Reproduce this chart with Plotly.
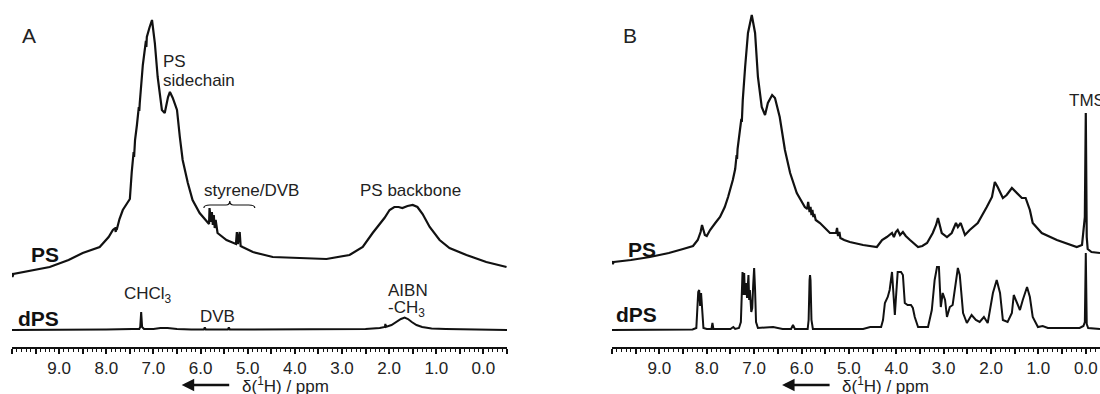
import plotly.graph_objects as go

# ---------------- data (ppm, intensity above trace offset) ----------------
A_PS_ppm = [10.00, 9.99, 9.97, 9.60, 9.20, 8.80, 8.50, 8.14, 7.95, 7.86, 7.81, 7.80, 7.79, 7.78, 7.72, 7.65,
            7.50, 7.46, 7.42, 7.41, 7.40, 7.39, 7.35, 7.31, 7.30, 7.29, 7.225, 7.16, 7.15, 7.14, 7.08, 7.03,
            6.97, 6.91, 6.82, 6.76, 6.69, 6.65, 6.59, 6.50, 6.44, 6.38, 6.27, 6.17, 6.02, 5.87, 5.82,
            5.81, 5.78, 5.76, 5.74, 5.72, 5.70, 5.68, 5.64, 5.45, 5.32, 5.25, 5.23, 5.21, 5.17, 5.15,
            5.11, 4.89, 4.47, 4.05, 3.33, 2.84, 2.56, 2.35, 2.10, 1.99, 1.89, 1.80, 1.72, 1.61, 1.50,
            1.40, 1.29, 1.14, 0.93, 0.72, 0.36, -0.06, -0.49]
A_PS_int = [4, 0, 3, 6, 10, 17, 24, 30, 40, 47, 49, 45, 50, 47, 58, 67,
            78, 105, 125, 120, 130, 137, 152, 170, 166, 174, 212, 236, 230, 240, 250, 257,
            234, 200, 167, 164, 180, 185, 179, 167, 140, 117, 94, 77, 64, 55, 53,
            69, 55, 65, 52, 62, 49, 57, 44, 37, 34, 33, 45, 33, 45, 31,
            30, 25, 20, 19, 18, 22, 30, 44, 59, 67, 70, 70, 69, 71, 72,
            70, 63, 50, 37, 29, 22, 15, 10]

A_dPS_ppm = [10.00, 9.00, 8.00, 7.45, 7.30, 7.28, 7.26, 7.24, 7.20, 7.00, 6.85, 6.70, 6.50, 6.20,
             5.93, 5.91, 5.89, 5.42, 5.40, 5.38, 4.50, 3.00, 2.50, 2.20, 2.09, 2.08, 2.07, 1.95,
             1.85, 1.75, 1.67, 1.60, 1.52, 1.42, 1.30, 1.10, 0.80, 0.30, -0.50]
A_dPS_int = [0, 0, 0.5, 1, 1, 3, 18, 3, 1, 1, 2, 2, 1, 0.5,
             0.5, 2.5, 0.5, 0.5, 2.5, 0.5, 0.5, 0.5, 1, 2, 3, 6, 3, 5,
             8, 11, 12.5, 11, 8, 5, 3, 1.5, 1, 0.5, 0]

B_PS_ppm = [10.00, 9.99, 9.96, 9.60, 9.20, 8.80, 8.50, 8.29, 8.19, 8.13, 8.10, 8.07, 8.04, 8.00, 7.93,
            7.82, 7.72, 7.62, 7.55, 7.45, 7.40, 7.37, 7.36, 7.35, 7.30, 7.27, 7.26, 7.24, 7.19, 7.13,
            7.05, 6.98, 6.92, 6.84, 6.77, 6.71, 6.62, 6.56, 6.46, 6.35, 6.24, 6.10, 5.93, 5.88, 5.86,
            5.83, 5.81, 5.79, 5.77, 5.75, 5.73, 5.70, 5.61, 5.50, 5.40, 5.27, 5.25, 5.23, 5.20, 5.18,
            5.10, 4.98, 4.70, 4.41, 4.30, 4.20, 4.09, 4.05, 4.01, 3.97, 3.92, 3.86, 3.80, 3.71, 3.62,
            3.54, 3.45, 3.35, 3.23, 3.16, 3.12, 3.08, 3.04, 2.93, 2.83, 2.74, 2.70, 2.64, 2.55, 2.45,
            2.28, 2.09, 1.98, 1.92, 1.86, 1.75, 1.67, 1.56, 1.46, 1.35, 1.27, 1.18, 1.12, 0.93, 0.61,
            0.19, 0.08, 0.04, 0.02, 0.00, -0.02, -0.04, -0.12, -0.30]
B_PS_int = [16, 13, 15, 17, 20, 24, 28, 31, 37, 45, 52, 46, 42, 41, 47,
            54, 60, 70, 80, 97, 108, 122, 118, 128, 150, 158, 155, 177, 210, 244,
            262, 244, 200, 170, 162, 174, 182, 179, 160, 127, 104, 84, 70, 68, 75,
            65, 70, 62, 67, 60, 63, 57, 54, 49, 44, 44, 49, 41, 45, 39,
            37, 35, 32, 30, 37, 40, 44, 40, 45, 47, 42, 45, 41, 37, 33,
            30, 31, 34, 44, 52, 59, 50, 44, 40, 44, 54, 50, 54, 42, 47,
            54, 70, 80, 95, 90, 79, 82, 89, 84, 79, 79, 67, 54, 44, 37,
            30, 32, 50, 60, 164, 40, 28, 25, 24]

B_dPS_ppm = [10.00, 9.00, 8.30, 8.22, 8.18, 8.16, 8.14, 8.12, 8.10, 8.07, 8.00, 7.90, 7.88, 7.86, 7.50,
             7.44, 7.40, 7.32, 7.28, 7.26, 7.245, 7.23, 7.21, 7.195, 7.17, 7.15, 7.12, 7.105, 7.09,
             7.06, 7.04, 7.02, 7.00, 6.98, 6.96, 6.92, 6.60, 6.40, 6.22, 6.18, 6.14, 5.87, 5.85, 5.83,
             5.82, 5.81, 5.79, 5.76, 4.70, 4.55, 4.40, 4.32, 4.28, 4.24, 4.18, 4.14, 4.09, 4.07, 4.05,
             4.03, 4.01, 3.99, 3.97, 3.90, 3.86, 3.82, 3.76, 3.69, 3.65, 3.61, 3.54, 3.33, 3.25, 3.19,
             3.14, 3.10, 3.07, 3.06, 3.02, 2.97, 2.93, 2.87, 2.81, 2.74, 2.70, 2.66, 2.59, 2.51, 2.41,
             2.32, 2.24, 2.15, 2.07, 1.96, 1.88, 1.81, 1.75, 1.65, 1.56, 1.52, 1.48, 1.39, 1.33, 1.24,
             1.18, 1.12, 1.01, 0.91, 0.80, 0.13, 0.05, 0.02, 0.00, -0.02, -0.05, -0.30]
B_dPS_int = [0, 0, 0.5, 2, 38, 40, 24, 37, 20, 2, 1, 1, 7, 1, 1,
             3, 1, 2, 8, 45, 58, 35, 57, 35, 47, 32, 55, 30, 40,
             18, 22, 45, 62, 40, 8, 2, 3, 1, 1, 5, 1, 1, 10, 50,
             55, 50, 10, 1, 1, 3, 3, 3, 10, 27, 33, 40, 58, 45, 30,
             15, 30, 50, 58, 58, 55, 27, 25, 25, 22, 13, 3, 3, 20, 50,
             63, 63, 40, 23, 37, 30, 13, 23, 25, 50, 62, 55, 17, 7, 15,
             10, 8, 13, 7, 37, 50, 37, 10, 8, 17, 35, 30, 20, 30, 43,
             33, 13, 3, 4, 2, 2, 4, 8, 77, 6, 2, 1]

tick_vals = [10.0, 9.5, 9.0, 8.5, 8.0, 7.5, 7.0, 6.5, 6.0, 5.5, 5.0, 4.5, 4.0, 3.5, 3.0, 2.5, 2.0, 1.5, 1.0, 0.5, 0.0, -0.5]
tick_text = ["", "", "9.0", "", "8.0", "", "7.0", "", "6.0", "", "5.0", "", "4.0", "", "3.0", "", "2.0", "", "1.0", "", "0.0", ""]

# ---------------- styling ----------------
PS_OFFSET = 70
DPS_OFFSET = 17
INK = "#111111"
TXT = "#222222"
FONT = "Liberation Sans, Arial, sans-serif"
PLOT_H = 347  # plot-area height in px (y units)

fig = go.Figure()
fig.add_trace(go.Scatter(x=A_PS_ppm, y=[v + PS_OFFSET for v in A_PS_int], mode="lines",
                         line=dict(color=INK, width=2.2), xaxis="x", yaxis="y", showlegend=False))
fig.add_trace(go.Scatter(x=A_dPS_ppm, y=[v + DPS_OFFSET for v in A_dPS_int], mode="lines",
                         line=dict(color=INK, width=2), xaxis="x", yaxis="y", showlegend=False))
fig.add_trace(go.Scatter(x=B_PS_ppm, y=[v + PS_OFFSET for v in B_PS_int], mode="lines",
                         line=dict(color=INK, width=2.2), xaxis="x2", yaxis="y", showlegend=False))
fig.add_trace(go.Scatter(x=B_dPS_ppm, y=[v + DPS_OFFSET for v in B_dPS_int], mode="lines",
                         line=dict(color=INK, width=2), xaxis="x2", yaxis="y", showlegend=False))

axis_style = dict(showline=True, linecolor=INK, linewidth=2, ticks="outside", ticklen=5, tickwidth=1.5,
                  tickcolor=INK, showgrid=False, zeroline=False, tickmode="array",
                  tickvals=tick_vals, ticktext=tick_text,
                  tickfont=dict(family=FONT, size=17, color=TXT),
                  minor=dict(dtick=0.1, tick0=0, ticks="outside", ticklen=2.5, tickwidth=1, tickcolor=INK),
                  anchor="y")

fig.update_layout(
    width=1100, height=394,
    margin=dict(l=0, r=0, t=0, b=47),
    paper_bgcolor="white", plot_bgcolor="white",
    xaxis=dict(domain=[12 / 1100, 507 / 1100], range=[10.0, -0.5], **axis_style),
    xaxis2=dict(domain=[612 / 1100, 1.0], range=[10.0, -0.3], **axis_style),
    yaxis=dict(range=[0, PLOT_H], visible=False, fixedrange=True),
    showlegend=False,
)

def label(text, x, y, xref, size=17, xanchor="center", color=TXT, yref="y"):
    return dict(text=text, x=x, y=y, xref=xref, yref=yref, showarrow=False, xanchor=xanchor,
                yanchor="middle", font=dict(family=FONT, size=size, color=color))

y_title = -38 / PLOT_H  # below the axis, in paper units

ann = [
    label("A", 9.63, 312, "x", size=21),
    label("PS", 6.84, 286, "x", xanchor="left"),
    label("sidechain", 6.84, 267, "x", xanchor="left"),
    label("styrene/DVB", 4.92, 157, "x"),
    label("PS backbone", 1.55, 157, "x"),
    label("<b>PS</b>", 9.64, 93, "x", size=21, xanchor="left", color=INK),
    label("<b>dPS</b>", 9.92, 29, "x", size=21, xanchor="left", color=INK),
    label("CHCl<sub>3</sub>", 7.12, 52, "x"),
    label("DVB", 5.65, 31, "x"),
    label("AIBN", 1.61, 57, "x"),
    label("-CH<sub>3</sub>", 1.63, 38, "x"),
    label("B", 9.62, 312, "x2", size=21),
    label("<b>PS</b>", 9.70, 98, "x2", size=21, xanchor="left", color=INK),
    label("<b>dPS</b>", 9.95, 33, "x2", size=21, xanchor="left", color=INK),
    label("TMS", 0.40, 247, "x2", xanchor="left"),
    label("δ(<sup>1</sup>H) / ppm", 5.17, y_title, "x", xanchor="left", yref="paper"),
    label("δ(<sup>1</sup>H) / ppm", 5.19, y_title, "x2", xanchor="left", yref="paper"),
    dict(text="", x=6.40, y=y_title, xref="x", yref="paper", ax=49, ay=0, axref="pixel", ayref="pixel",
         showarrow=True, arrowhead=2, arrowsize=1, arrowwidth=2.5, arrowcolor=INK),
    dict(text="", x=6.41, y=y_title, xref="x2", yref="paper", ax=49, ay=0, axref="pixel", ayref="pixel",
         showarrow=True, arrowhead=2, arrowsize=1, arrowwidth=2.5, arrowcolor=INK),
]
fig.update_layout(annotations=ann)

# curly bracket above the styrene/DVB signals
fig.add_shape(type="path", xref="x", yref="y", line=dict(color=INK, width=1.2),
              path="M 5.93,139 Q 5.93,142 5.80,142 L 5.46,142 Q 5.38,142 5.38,146 "
                   "Q 5.38,142 5.30,142 L 4.98,142 Q 4.85,142 4.85,139")

fig.write_html("out.html", config={"displayModeBar": False},
               post_script="document.body.style.margin='0';document.body.style.overflow='hidden';")
